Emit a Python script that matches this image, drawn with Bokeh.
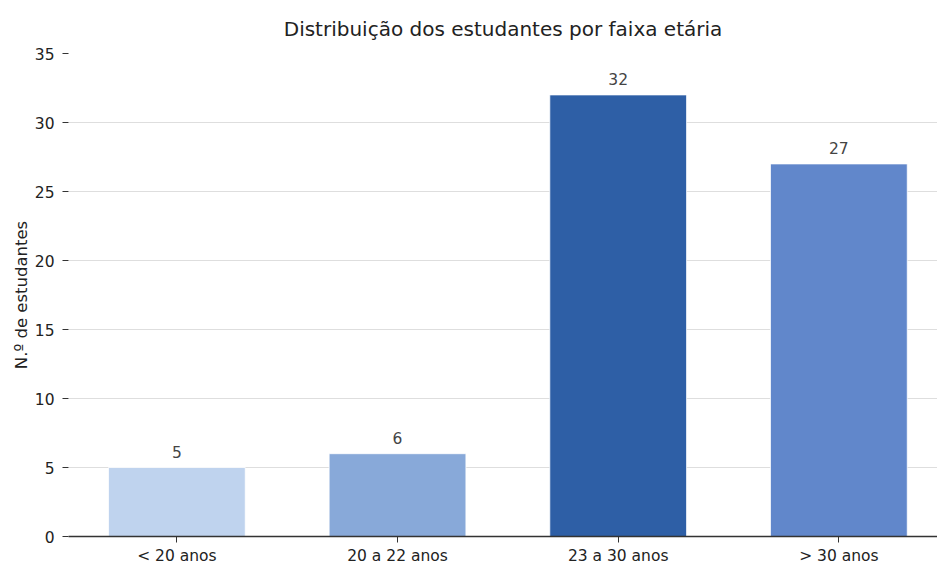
from bokeh.plotting import figure
from bokeh.models import Range1d, FixedTicker, ColumnDataSource, LabelSet
from bokeh.core.properties import value
from bokeh.embed import file_html
from bokeh.resources import INLINE

categories = ["< 20 anos", "20 a 22 anos", "23 a 30 anos", "> 30 anos"]
counts = [5, 6, 32, 27]
colors = ["#bfd3ee", "#88a9d9", "#2e5fa6", "#6187cb"]
y_ticks = [0, 5, 10, 15, 20, 25, 30, 35]

FONT = "DejaVu Sans"

xs = list(range(len(categories)))
src = ColumnDataSource(dict(x=xs, top=counts, color=colors,
                            label=[str(c) for c in counts]))

p = figure(width=937, height=567, output_backend="svg", toolbar_location=None,
           x_range=Range1d(-0.491, 3.447), y_range=Range1d(0, 35),
           min_border_left=68, min_border_right=0, min_border_top=53,
           min_border_bottom=30)
p.title.text = "Distribuição dos estudantes por faixa etária"
p.title.align = "center"
p.title.text_font = FONT
p.title.text_font_size = "20px"
p.title.text_font_style = "normal"
p.title.text_color = "#222222"
p.title.offset = 5
p.title.standoff = 26

p.vbar(x="x", top="top", width=0.62, bottom=0, color="color", source=src,
       line_color="white", line_width=0.8)

labels = LabelSet(x="x", y="top", text="label", source=src, text_align="center",
                  text_baseline="bottom", y_offset=10, text_font=value(FONT),
                  text_font_size=value("15.5px"), text_color="#444444")
p.add_layout(labels)

p.outline_line_color = None
p.xgrid.grid_line_color = None
p.ygrid.grid_line_color = "#dedede"
p.ygrid.grid_line_width = 1.2

p.yaxis.ticker = FixedTicker(ticks=y_ticks)
p.yaxis.axis_line_color = None
p.yaxis.major_tick_out = 6
p.yaxis.major_tick_in = 0
p.yaxis.minor_tick_line_color = None
p.yaxis.major_tick_line_color = "#333333"
p.yaxis.major_label_text_font = FONT
p.yaxis.major_label_text_font_size = "15.5px"
p.yaxis.major_label_text_color = "#222222"
p.yaxis.major_label_standoff = 8
p.yaxis.axis_label = "N.º de estudantes"
p.yaxis.axis_label_text_font = FONT
p.yaxis.axis_label_text_font_size = "16.5px"
p.yaxis.axis_label_text_font_style = "normal"
p.yaxis.axis_label_text_color = "#222222"
p.yaxis.axis_label_standoff = 1

p.xaxis.ticker = FixedTicker(ticks=xs)
p.xaxis.major_label_overrides = {i: c for i, c in enumerate(categories)}
p.xaxis.axis_line_color = "#333333"
p.xaxis.axis_line_width = 1.3
p.xaxis.major_tick_out = 6
p.xaxis.major_tick_in = 0
p.xaxis.minor_tick_line_color = None
p.xaxis.major_tick_line_color = "#333333"
p.xaxis.major_label_text_font = FONT
p.xaxis.major_label_text_font_size = "15.5px"
p.xaxis.major_label_text_color = "#222222"
p.xaxis.major_label_standoff = 4

open("out.html", "w").write(file_html(p, INLINE))
